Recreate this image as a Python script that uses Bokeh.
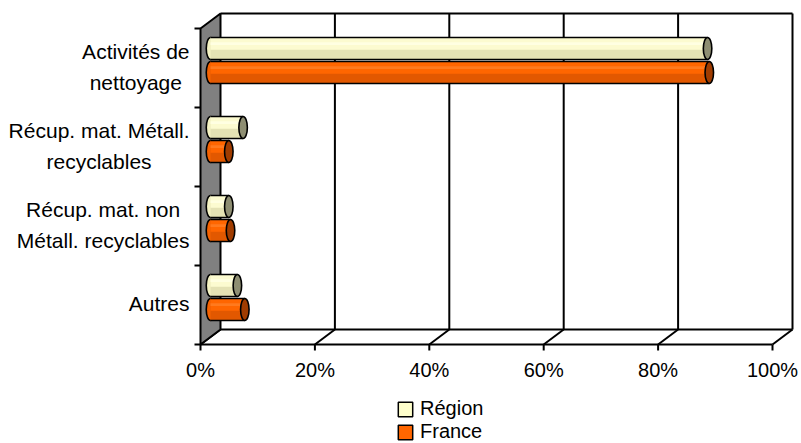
from bokeh.plotting import figure
from bokeh.models import Range1d, Legend, LegendItem, ColumnDataSource
from bokeh.core.properties import value
from bokeh.embed import file_html
from bokeh.resources import INLINE

# ---------------- data ----------------
categories = ["Activités de\nnettoyage",
              "Récup. mat. Métall.\nrecyclables",
              "Récup. mat. non\nMétall. recyclables",
              "Autres"]
region = [86.9, 5.7, 3.2, 4.7]
france = [87.2, 3.2, 3.5, 6.0]
series_names = ["Région", "France"]
x_ticks = [0, 20, 40, 60, 80, 100]
x_tick_labels = ["0%", "20%", "40%", "60%", "80%", "100%"]

# ---------------- layout (pixels) ----------------
W, H = 801, 443
PX_X = 5.72          # px per percent
PX_Y = 79.0          # px per category band
X0_PX = 200          # frame px of 0 %
Y0_PX = 344          # frame px (from top) of the front floor edge
N = len(categories)

x_start = -X0_PX / PX_X
x_end = x_start + W / PX_X
y_top = N + (Y0_PX - N * PX_Y) / PX_Y
y_bottom = y_top - H / PX_Y

DX = 20 / PX_X       # depth offset in data units
DY = 15 / PX_Y

FONT_NAME = "Liberation Sans"
FONT = value(FONT_NAME)

p = figure(width=W, height=H, x_range=Range1d(x_start, x_end),
           y_range=Range1d(y_bottom, y_top), min_border=0,
           toolbar_location=None, output_backend="svg",
           x_axis_type=None, y_axis_type=None, outline_line_color=None,
           background_fill_color="white", border_fill_color="white")
p.grid.visible = False

LW = 2
# back wall
xmax = x_ticks[-1]
p.segment(x0=[DX], y0=[N + DY], x1=[xmax + DX], y1=[N + DY], line_color="black", line_width=LW)
p.segment(x0=[t + DX for t in x_ticks[1:]], y0=[DY] * (len(x_ticks) - 1),
          x1=[t + DX for t in x_ticks[1:]], y1=[N + DY] * (len(x_ticks) - 1),
          line_color="black", line_width=LW)
# floor
p.segment(x0=[DX], y0=[DY], x1=[xmax + DX], y1=[DY], line_color="black", line_width=LW)
p.segment(x0=[0], y0=[0], x1=[xmax], y1=[0], line_color="black", line_width=LW)
p.segment(x0=x_ticks, y0=[0] * len(x_ticks), x1=[t + DX for t in x_ticks],
          y1=[DY] * len(x_ticks), line_color="black", line_width=LW)
# side wall
p.patch(x=[0, 0, DX, DX], y=[0, N, N + DY, DY], fill_color="#808080",
        line_color="black", line_width=LW)
# ticks
TX = 6 / PX_Y
p.segment(x0=x_ticks, y0=[0] * len(x_ticks), x1=x_ticks, y1=[-TX] * len(x_ticks),
          line_color="black", line_width=LW)
TY = 6 / PX_X
p.segment(x0=[-TY] * (N + 1), y0=list(range(N + 1)), x1=[0] * (N + 1),
          y1=list(range(N + 1)), line_color="black", line_width=LW)

# tick labels
p.text(x=x_ticks, y=[-25 / PX_Y] * len(x_ticks), text=x_tick_labels,
       text_font=FONT, text_font_size="20px", text_align="center",
       text_baseline="alphabetic", text_color="black")

# category labels (block centred lines, block right aligned)
AW = {'A': 667, 'a': 556, 'b': 556, 'c': 500, 'd': 556, 'e': 556, 'é': 556,
      'g': 556, 'i': 222, 'l': 222, 'm': 833, 'M': 833, 'n': 556, 'o': 556,
      'p': 556, 'r': 333, 'R': 722, 's': 500, 't': 278, 'u': 556, 'v': 500,
      'y': 500, ' ': 278, '.': 278}
CFS = 21
def tw(s):
    return sum(AW.get(ch, 556) for ch in s) / 1000 * CFS

right_edge = -11 / PX_X
lx, ly, lt = [], [], []
half_line = 15.5 / PX_Y
base_shift = (9 - 0.716 * CFS / 2) / PX_Y
for i, cat in enumerate(categories):
    yc = N - i - 0.5
    lines = cat.split("\n")
    bw = max(tw(s) for s in lines)
    cx = right_edge - bw / 2 / PX_X
    if len(lines) == 1:
        offs = [0]
    else:
        offs = [half_line, -half_line]
    for s, o in zip(lines, offs):
        lx.append(cx)
        ly.append(yc + o + base_shift)
        lt.append(s)
p.text(x=lx, y=ly, text=lt, text_font=FONT, text_font_size=f"{CFS}px",
       text_align="center", text_baseline="alphabetic", text_color="black")

# ---------------- cylinders ----------------
BH = 22 / PX_Y
OFF = 12 / PX_Y
EW = 8.5 / PX_X
xs0 = DX / 2
styles = [
    dict(base="#F4F2C2", top="#FCFBD0", hi="#FFFFE2", bot="#E4E2B4", cap="#8E8E72",
         legend="#FFFFCC"),
    dict(base="#F56200", top="#FF6600", hi="#FF7A1E", bot="#E25800", cap="#A03C00",
         legend="#FF6600"),
]
NAN = float("nan")
legend_renderers = []
for si, (vals, st) in enumerate(zip([region, france], styles)):
    sign = 1 if si == 0 else -1
    ys = [N - i - 0.5 + DY / 2 + sign * OFF for i in range(N)]
    rights = [v + xs0 for v in vals]
    src = ColumnDataSource(dict(y=ys, right=rights,
                                top_y=[y + BH / 2 for y in ys],
                                bot_y=[y - BH / 2 for y in ys],
                                hi_y=[y + BH * 0.22 for y in ys]))
    p.ellipse(x=xs0, y="y", width=EW, height=BH, source=src,
              fill_color=st["base"], line_color="black", line_width=1.6)
    p.hbar(y="y", left=xs0, right="right", height=BH, source=src,
           fill_color=st["bot"], line_color=None)
    p.hbar(y="hi_y", left=xs0, right="right", height=BH * 0.56, source=src,
           fill_color=st["top"], line_color=None)
    p.hbar(y="hi_y", left=xs0, right="right", height=BH * 0.12, source=src,
           fill_color=st["hi"], line_color=None)
    p.segment(x0=xs0, y0="top_y", x1="right", y1="top_y", source=src,
              line_color="black", line_width=1.6)
    p.segment(x0=xs0, y0="bot_y", x1="right", y1="bot_y", source=src,
              line_color="black", line_width=1.6)
    p.ellipse(x="right", y="y", width=EW, height=BH, source=src,
              fill_color=st["cap"], line_color="black", line_width=1.6)
    # legend-only glyph (no position on the plot)
    lr = p.quad(left=[NAN], right=[NAN], top=[NAN], bottom=[NAN],
                fill_color=st["legend"], line_color="black", line_width=1.5)
    legend_renderers.append(lr)

legend = Legend(items=[LegendItem(label=n, renderers=[r])
                       for n, r in zip(series_names, legend_renderers)],
                location=(396, 0), orientation="vertical",
                border_line_color=None, background_fill_alpha=0,
                padding=0, margin=0, spacing=-2,
                glyph_width=18, glyph_height=18, label_standoff=6,
                label_text_font=FONT_NAME, label_text_font_size="20px",
                label_text_color="black")
p.add_layout(legend)

open("out.html", "w").write(file_html(p, INLINE))
